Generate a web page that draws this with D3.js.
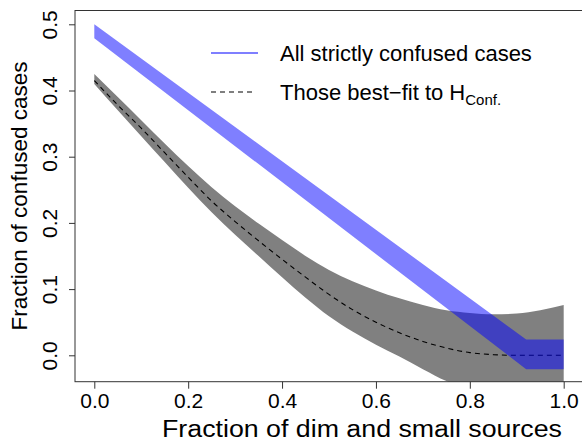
<!DOCTYPE html>
<html>
<head>
<meta charset="utf-8">
<script src="https://cdn.jsdelivr.net/npm/d3@7"></script>
<style>
  body { margin: 0; background: #fff; }
  svg { display: block; }
</style>
</head>
<body>
<svg id="chart"></svg>
<script>
// fraction of dim and small sources (x grid of the gray band)
const fracDim = [0.00, 0.05, 0.10, 0.15, 0.20, 0.25, 0.30, 0.35, 0.40, 0.45, 0.50,
                 0.55, 0.60, 0.65, 0.70, 0.75, 0.80, 0.85, 0.90, 0.95, 1.00];
// best-fit to H_Conf. : band limits and central (dashed) curve
const bestFitUpper = [0.425, 0.390, 0.355, 0.320, 0.286, 0.254, 0.225, 0.199, 0.174, 0.150, 0.129,
                      0.112, 0.098, 0.086, 0.076, 0.068, 0.064, 0.062, 0.063, 0.068, 0.076];
const bestFitLower = [0.410, 0.370, 0.331, 0.292, 0.253, 0.216, 0.182, 0.150, 0.118, 0.087, 0.059,
                      0.036, 0.016, -0.002, -0.021, -0.039, -0.053, -0.064, -0.072, -0.076, -0.080];
const bestFitMid   = [0.415, 0.378, 0.343, 0.306, 0.269, 0.233, 0.202, 0.173, 0.145, 0.118, 0.092,
                      0.069, 0.050, 0.034, 0.021, 0.011, 0.004, 0.001, 0.000, 0.000, 0.000];
// all strictly confused cases
const allX     = [0.00, 0.92, 1.00];
const allUpper = [0.500, 0.024, 0.024];
const allLower = [0.479, -0.021, -0.021];

const xTickVals = [0, 0.2, 0.4, 0.6, 0.8, 1.0];
const yTickVals = [0, 0.1, 0.2, 0.3, 0.4, 0.5];
const legendLabels = ["All strictly confused cases", "Those best\u2212fit to H"];

const width = 582, height = 444;
const plotLeft = 75, plotTop = 10.5, plotBottom = 381.7, plotRight = 640;
const font = "'Liberation Sans', Arial, Helvetica, sans-serif";
const blue = "rgba(0,0,255,0.5)";

const svg = d3.select("#chart").attr("width", width).attr("height", height);

const x = d3.scaleLinear().domain([0, 1]).range([94.3, 563.7]);
const y = d3.scaleLinear().domain([0, 0.5]).range([355.3, 24.3]);

svg.append("clipPath").attr("id", "plotClip")
  .append("rect")
  .attr("x", plotLeft).attr("y", plotTop)
  .attr("width", plotRight - plotLeft).attr("height", plotBottom - plotTop);

const plot = svg.append("g").attr("clip-path", "url(#plotClip)");

// gray band
const grayArea = d3.area()
  .x((d, i) => x(fracDim[i]))
  .y0((d, i) => y(bestFitLower[i]))
  .y1((d, i) => y(bestFitUpper[i]))
  .curve(d3.curveMonotoneX);
plot.append("path").datum(fracDim)
  .attr("d", grayArea)
  .attr("fill", "#808080");

// dashed best-fit curve
const midLine = d3.line()
  .x((d, i) => x(fracDim[i]))
  .y(d => y(d))
  .curve(d3.curveMonotoneX);
plot.append("path").datum(bestFitMid)
  .attr("d", midLine)
  .attr("fill", "none")
  .attr("stroke", "#000")
  .attr("stroke-width", 1.1)
  .attr("stroke-dasharray", "5,4");

// blue band
const blueArea = d3.area()
  .x((d, i) => x(allX[i]))
  .y0((d, i) => y(allLower[i]))
  .y1((d, i) => y(allUpper[i]));
plot.append("path").datum(allX)
  .attr("d", blueArea)
  .attr("fill", blue);

// box
svg.append("rect")
  .attr("x", plotLeft).attr("y", plotTop)
  .attr("width", plotRight - plotLeft).attr("height", plotBottom - plotTop)
  .attr("fill", "none").attr("stroke", "#333").attr("stroke-width", 1);

// x axis
const gx = svg.append("g")
  .attr("transform", `translate(0,${plotBottom})`)
  .call(d3.axisBottom(x).tickValues(xTickVals).tickSize(7).tickFormat(d3.format(".1f")));
gx.select(".domain").remove();
gx.selectAll("line").attr("stroke", "#333");
gx.selectAll("text")
  .attr("y", 26.5).attr("dy", null)
  .attr("fill", "#000")
  .style("font-family", font).style("font-size", "21px");

// y axis
const gy = svg.append("g")
  .attr("transform", `translate(${plotLeft},0)`)
  .call(d3.axisLeft(y).tickValues(yTickVals).tickSize(6).tickFormat(d3.format(".1f")));
gy.select(".domain").remove();
gy.selectAll("line").attr("stroke", "#333");
gy.selectAll("text")
  .attr("x", 0).attr("dy", null)
  .attr("text-anchor", "middle")
  .attr("transform", "translate(-18,0) rotate(-90)")
  .attr("fill", "#000")
  .style("font-family", font).style("font-size", "21px");

// axis titles
svg.append("text")
  .attr("x", 162).attr("y", 437)
  .attr("textLength", 400)
  .attr("lengthAdjust", "spacingAndGlyphs")
  .style("font-family", font).style("font-size", "23px")
  .text("Fraction of dim and small sources");

svg.append("text")
  .attr("transform", "translate(27,196) rotate(-90)")
  .attr("text-anchor", "middle")
  .style("font-family", font).style("font-size", "22.5px")
  .text("Fraction of confused cases");

// legend
const legend = svg.append("g");
legend.append("line")
  .attr("x1", 211).attr("x2", 258).attr("y1", 53).attr("y2", 53)
  .attr("stroke", blue).attr("stroke-width", 2);
legend.append("text")
  .attr("x", 280).attr("y", 61)
  .style("font-family", font).style("font-size", "22px")
  .text(legendLabels[0]);
legend.append("line")
  .attr("x1", 211).attr("x2", 256).attr("y1", 92).attr("y2", 92)
  .attr("stroke", "#000").attr("stroke-width", 1.1)
  .attr("stroke-dasharray", "5,4");
const t2 = legend.append("text")
  .attr("x", 280).attr("y", 100)
  .style("font-family", font).style("font-size", "22px")
  .text(legendLabels[1]);
t2.append("tspan")
  .attr("dy", 5)
  .style("font-size", "15px")
  .text("Conf.");
</script>
</body>
</html>
